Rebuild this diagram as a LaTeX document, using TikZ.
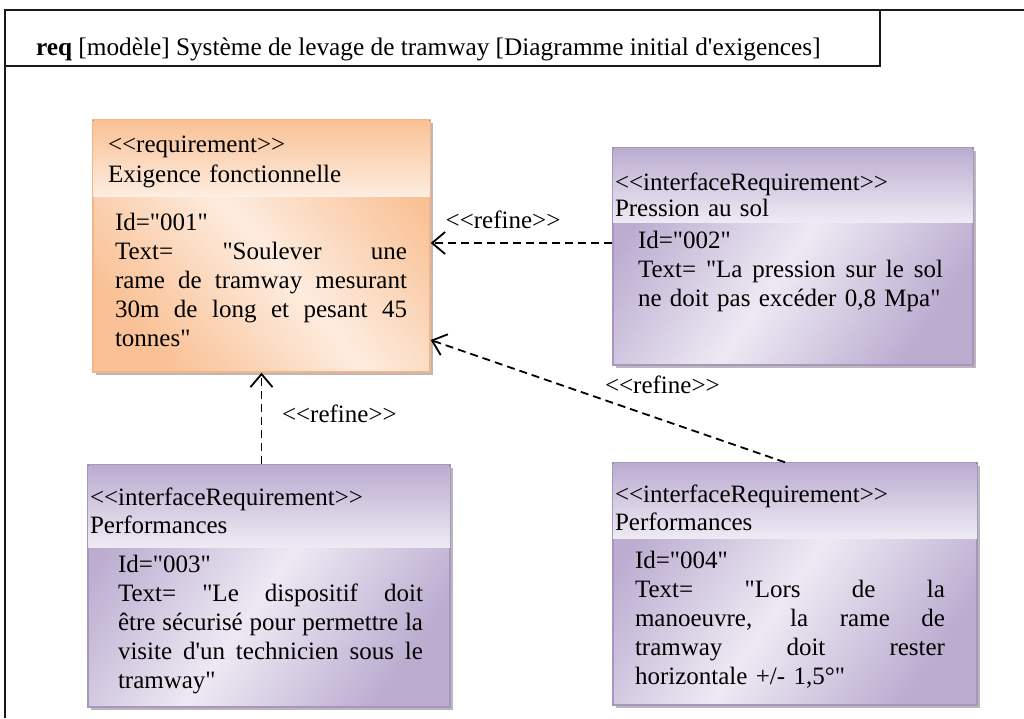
\documentclass[tikz,border=0pt]{standalone}
\usepackage{fontspec}
\setmainfont{Liberation Serif}[Ligatures=TeXOff]
\usetikzlibrary{arrows.meta,shadows}
\definecolor{orD}{HTML}{F9C195}
\definecolor{orL}{HTML}{FDECDF}
\definecolor{orB}{HTML}{F6B485}
\definecolor{puD}{HTML}{BBACD0}
\definecolor{puL}{HTML}{EDE9F3}
\definecolor{puB}{HTML}{A896C0}
\newcommand\jline[1]{\makebox[\hsize][s]{\spaceskip=0pt\xspaceskip=0pt #1}}
\tikzset{
  frameline/.style={line width=1.6pt, draw=black!90},
  reqbox/.style={draw=#1B, line width=1.4pt, inner sep=0pt,
     shading=axis, left color=#1D, right color=#1D, middle color=#1L, shading angle=55,
     drop shadow={shadow xshift=3pt, shadow yshift=-3pt, fill=black!50, opacity=0.55}},
  headfill/.style={top color=#1D, bottom color=#1L},
  sepline/.style={draw=white!75!#1D, line width=1.4pt},
  txt/.style={font=\fontsize{25}{29}\selectfont, inner sep=0pt, outer sep=0pt, anchor=base west},
  headtxt/.style={txt, font=\fontsize{25}{28}\selectfont, text width=360pt, align=left},
  bodytxt/.style={txt, text width=#1, align=left},
  lbl/.style={txt},
  refine/.style={line width=1.8pt, dash pattern=on 8pt off 5pt,
     -{Straight Barb[length=13pt,width=22pt]}},
}
\begin{document}
\begin{tikzpicture}[x=1pt,y=-1pt]
\useasboundingbox (0,0) rectangle (1024,718);
% frame
\draw[frameline] (1024,10) -- (5,10) -- (5,718);
\draw[frameline] (5,66) -- (880,66) -- (880,10);
\node[txt, font=\fontsize{25.3}{28}\selectfont] (title) at (36,55)
  {\textbf{req} [modèle] Système de levage de tramway [Diagramme initial d'exigences]};

% requirement box
\node[reqbox=or, shading angle=-50, minimum width=337pt, minimum height=252pt] (req) at (261.5,246) {};
\fill[headfill=or] ([shift={(1,1)}]req.north west) rectangle ([shift={(-1,0)}]req.east |- 0,195);
\draw[sepline=or] ([shift={(1,0)}]req.west |- 0,196) -- ([shift={(-1,0)}]req.east |- 0,196);
\node[headtxt, font=\fontsize{25}{30}\selectfont] (reqh) at (108,152) {<<requirement>>\\Exigence fonctionnelle};
\node[bodytxt=292pt] (reqb) at (115,230)
  {Id="001"\\\jline{Text= "Soulever une}\\\jline{rame de tramway mesurant}\\\jline{30m de long et pesant 45}\\tonnes"};

% pression box
\node[reqbox=pu, minimum width=360pt, minimum height=217pt] (pres) at (793,256.5) {};
\fill[headfill=pu] ([shift={(1,1)}]pres.north west) rectangle ([shift={(-1,0)}]pres.east |- 0,221);
\draw[sepline=pu] ([shift={(1,0)}]pres.west |- 0,222) -- ([shift={(-1,0)}]pres.east |- 0,222);
\node[headtxt, font=\fontsize{25}{26}\selectfont] (presh) at (615,190) {<<interfaceRequirement>>\\Pression au sol};
\node[bodytxt=305pt] (presb) at (638,248)
  {Id="002"\\\jline{Text= "La pression sur le sol}\\ne doit pas excéder 0,8 Mpa"};

% performances 1
\node[reqbox=pu, minimum width=362pt, minimum height=242pt] (perfa) at (269,586) {};
\fill[headfill=pu] ([shift={(1,1)}]perfa.north west) rectangle ([shift={(-1,0)}]perfa.east |- 0,546);
\draw[sepline=pu] ([shift={(1,0)}]perfa.west |- 0,547) -- ([shift={(-1,0)}]perfa.east |- 0,547);
\node[headtxt] (perfah) at (90,505) {<<interfaceRequirement>>\\Performances};
\node[bodytxt=305pt] (perfab) at (118,572)
  {Id="003"\\\jline{Text= "Le dispositif doit}\\\jline{être sécurisé pour permettre la}\\\jline{visite d'un technicien sous le}\\tramway"};

% performances 2
\node[reqbox=pu, minimum width=364pt, minimum height=242pt] (perfb) at (795,584) {};
\fill[headfill=pu] ([shift={(1,1)}]perfb.north west) rectangle ([shift={(-1,0)}]perfb.east |- 0,537);
\draw[sepline=pu] ([shift={(1,0)}]perfb.west |- 0,538) -- ([shift={(-1,0)}]perfb.east |- 0,538);
\node[headtxt] (perfbh) at (615,502) {<<interfaceRequirement>>\\Performances};
\node[bodytxt=310pt] (perfbb) at (635,568)
  {Id="004"\\\jline{Text= "Lors de la}\\\jline{manoeuvre, la rame de}\\\jline{tramway doit rester}\\horizontale +/- 1,5°"};

% connectors
\draw[refine] (pres.west |- 0,243) -- (req.east |- 0,243);
\node[lbl, anchor=base] (l1) at (503,228) {<<refine>>};
\draw[refine] (perfa.north -| req.south) -- (req.south);
\node[lbl] (l2) at (282,422) {<<refine>>};
\draw[refine] ([xshift=-10]perfb.north) -- (req.east |- 0,340);
\node[lbl] (l3) at (605,393) {<<refine>>};
\end{tikzpicture}
\end{document}
